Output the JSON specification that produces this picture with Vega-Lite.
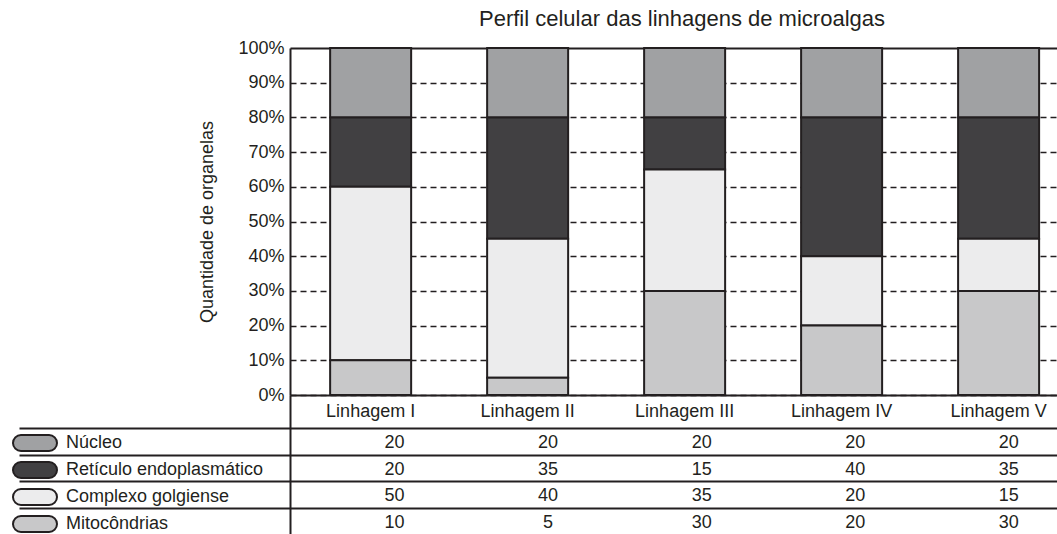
{
  "$schema": "https://vega.github.io/schema/vega-lite/v6.json",
  "autosize": {"type": "pad"},
  "padding": {"left": 18, "top": 8, "right": 0, "bottom": 0},
  "background": "white",
  "config": {
    "font": "Liberation Sans",
    "view": {"stroke": null},
    "axis": {"labelColor": "#231f20", "titleColor": "#231f20", "labelFont": "Liberation Sans", "titleFont": "Liberation Sans"},
    "legend": {"labelColor": "#231f20", "labelFont": "Liberation Sans"}
  },
  "datasets": {
    "organelas": [
      {"linhagem": "Linhagem I", "organela": "Núcleo", "quantidade": 20},
      {"linhagem": "Linhagem I", "organela": "Retículo endoplasmático", "quantidade": 20},
      {"linhagem": "Linhagem I", "organela": "Complexo golgiense", "quantidade": 50},
      {"linhagem": "Linhagem I", "organela": "Mitocôndrias", "quantidade": 10},
      {"linhagem": "Linhagem II", "organela": "Núcleo", "quantidade": 20},
      {"linhagem": "Linhagem II", "organela": "Retículo endoplasmático", "quantidade": 35},
      {"linhagem": "Linhagem II", "organela": "Complexo golgiense", "quantidade": 40},
      {"linhagem": "Linhagem II", "organela": "Mitocôndrias", "quantidade": 5},
      {"linhagem": "Linhagem III", "organela": "Núcleo", "quantidade": 20},
      {"linhagem": "Linhagem III", "organela": "Retículo endoplasmático", "quantidade": 15},
      {"linhagem": "Linhagem III", "organela": "Complexo golgiense", "quantidade": 35},
      {"linhagem": "Linhagem III", "organela": "Mitocôndrias", "quantidade": 30},
      {"linhagem": "Linhagem IV", "organela": "Núcleo", "quantidade": 20},
      {"linhagem": "Linhagem IV", "organela": "Retículo endoplasmático", "quantidade": 40},
      {"linhagem": "Linhagem IV", "organela": "Complexo golgiense", "quantidade": 20},
      {"linhagem": "Linhagem IV", "organela": "Mitocôndrias", "quantidade": 20},
      {"linhagem": "Linhagem V", "organela": "Núcleo", "quantidade": 20},
      {"linhagem": "Linhagem V", "organela": "Retículo endoplasmático", "quantidade": 35},
      {"linhagem": "Linhagem V", "organela": "Complexo golgiense", "quantidade": 15},
      {"linhagem": "Linhagem V", "organela": "Mitocôndrias", "quantidade": 30}
    ]
  },
  "bounds": "flush",
  "spacing": 0,
  "vconcat": [
    {
      "width": 768,
      "height": 347,
      "title": {"text": "Perfil celular das linhagens de microalgas", "fontSize": 22, "fontWeight": "normal", "color": "#231f20", "anchor": "middle", "offset": 8, "dx": 8},
      "data": {"name": "organelas"},
      "transform": [
        {"calculate": "indexof(['Mitocôndrias', 'Complexo golgiense', 'Retículo endoplasmático', 'Núcleo'], datum.organela)", "as": "ordem"}
      ],
      "mark": {"type": "bar", "stroke": "#231f20", "strokeWidth": 2},
      "encoding": {
        "x": {
          "field": "linhagem", "type": "nominal",
          "sort": ["Linhagem I", "Linhagem II", "Linhagem III", "Linhagem IV", "Linhagem V"],
          "scale": {"paddingInner": 0.484, "paddingOuter": 0.188, "align": 0.68},
          "axis": {"title": null, "labelAngle": 0, "labelFontSize": 18, "labelPadding": 7, "ticks": false, "domainColor": "#231f20", "domainWidth": 2}
        },
        "y": {
          "field": "quantidade", "type": "quantitative", "stack": "zero",
          "scale": {"domain": [0, 100], "nice": false},
          "axis": {
            "title": "Quantidade de organelas", "titleFontSize": 18, "titleFontWeight": "normal", "titlePadding": 21,
            "values": [0, 10, 20, 30, 40, 50, 60, 70, 80, 90, 100], "tickCount": 30, "labelOverlap": false,
            "labelExpr": "datum.value + '%'", "labelFontSize": 18, "labelPadding": 6,
            "ticks": false, "grid": true,
            "gridDash": {"condition": {"test": "datum.value >= 100", "value": [1, 0]}, "value": [6, 4]},
            "gridWidth": {"condition": {"test": "datum.value >= 100", "value": 2}, "value": 1.5},
            "gridColor": "#231f20", "gridOpacity": 1,
            "domainColor": "#231f20", "domainWidth": 2
          }
        },
        "order": {"field": "ordem", "type": "quantitative", "sort": "ascending"},
        "color": {
          "field": "organela", "type": "nominal",
          "scale": {
            "domain": ["Mitocôndrias", "Complexo golgiense", "Retículo endoplasmático", "Núcleo"],
            "range": ["#c8c8c9", "#ececed", "#414042", "#a0a1a3"]
          },
          "legend": {
            "title": null,
            "orient": "none",
            "legendX": -265,
            "legendY": 385,
            "padding": 0,
            "values": ["Núcleo", "Retículo endoplasmático", "Complexo golgiense", "Mitocôndrias"],
            "symbolType": "M -1.556,-0.889 L 1.556,-0.889 A 0.889,0.889 0 0 1 1.556,0.889 L -1.556,0.889 A 0.889,0.889 0 0 1 -1.556,-0.889 Z",
            "symbolSize": 324,
            "symbolStrokeColor": "#231f20",
            "symbolStrokeWidth": 2,
            "symbolOpacity": 1,
            "labelFontSize": 18,
            "labelOffset": 21,
            "labelLimit": 400,
            "rowPadding": 1
          }
        }
      }
    },
    {
      "width": 768,
      "height": 140,
      "data": {"name": "organelas"},
      "mark": {"type": "text", "fontSize": 18, "color": "#231f20", "font": "Liberation Sans", "dy": 1.5},
      "encoding": {
        "x": {
          "field": "linhagem", "type": "nominal",
          "sort": ["Linhagem I", "Linhagem II", "Linhagem III", "Linhagem IV", "Linhagem V"],
          "scale": {"paddingInner": 0.484, "paddingOuter": 0.188, "align": 0.68},
          "axis": null
        },
        "y": {
          "field": "organela", "type": "nominal",
          "sort": ["Núcleo", "Retículo endoplasmático", "Complexo golgiense", "Mitocôndrias"],
          "scale": {"paddingInner": 0, "paddingOuter": 0.6168, "align": 1},
          "axis": {
            "title": null, "labels": false, "tickBand": "extent", "tickSize": 271, "tickColor": "#231f20", "tickWidth": 2,
            "grid": true, "gridColor": "#231f20", "gridWidth": 2, "gridOpacity": 1,
            "domainColor": "#231f20", "domainWidth": 2
          }
        },
        "text": {"field": "quantidade", "type": "quantitative"}
      }
    }
  ]
}
